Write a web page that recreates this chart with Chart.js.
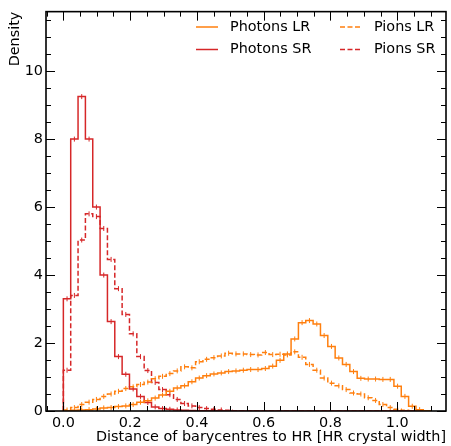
<!DOCTYPE html>
<html>
<head>
<meta charset="utf-8">
<script src="https://cdn.jsdelivr.net/npm/chart.js@4.4.0/dist/chart.umd.min.js"></script>
<style>
  html, body { margin: 0; padding: 0; background: #fff; }
  #wrap { width: 451px; height: 446px; }
</style>
</head>
<body>
<div id="wrap"><canvas id="chart" width="451" height="446"></canvas></div>
<script>
// Histogram binning: 50 bins of 0.022 from 0 to 1.1
const binStart = 0;
const binWidth = 0.022;

const photonsLR = [0.01, 0.02, 0.03, 0.04, 0.06, 0.09, 0.10, 0.13, 0.15, 0.19,
                   0.26, 0.30, 0.38, 0.47, 0.58, 0.68, 0.74, 0.86, 0.97, 1.04,
                   1.09, 1.12, 1.16, 1.18, 1.20, 1.22, 1.22, 1.25, 1.32, 1.49,
                   1.68, 2.12, 2.60, 2.66, 2.56, 2.22, 1.90, 1.56, 1.37, 1.16,
                   0.96, 0.94, 0.94, 0.93, 0.93, 0.73, 0.43, 0.14, 0.04, 0.01];
const photonsSR = [3.30, 8.00, 9.25, 8.00, 6.00, 4.00, 2.63, 1.60, 1.08, 0.65,
                   0.43, 0.25, 0.12, 0.07, 0.05, 0.03, 0.02, 0.015, 0.01, 0.01,
                   0.005, 0.005, 0, 0, 0, 0, 0, 0, 0, 0,
                   0, 0, 0, 0, 0, 0, 0, 0, 0, 0,
                   0, 0, 0, 0, 0, 0, 0, 0, 0, 0];
const pionsLR = [0.03, 0.10, 0.19, 0.26, 0.34, 0.43, 0.50, 0.58, 0.66, 0.71,
                 0.78, 0.85, 0.95, 1.02, 1.10, 1.18, 1.30, 1.27, 1.45, 1.52,
                 1.57, 1.62, 1.70, 1.68, 1.68, 1.66, 1.65, 1.72, 1.66, 1.67,
                 1.65, 1.74, 1.58, 1.37, 1.20, 0.97, 0.82, 0.74, 0.63, 0.53,
                 0.50, 0.39, 0.31, 0.19, 0.10, 0.05, 0.02, 0.01, 0, 0];
const pionsSR = [1.20, 3.40, 5.03, 5.80, 5.72, 5.37, 4.46, 3.60, 2.84, 2.27,
                 1.60, 1.19, 0.84, 0.63, 0.48, 0.34, 0.22, 0.15, 0.10, 0.07,
                 0.05, 0.03, 0.02, 0.01, 0.01, 0.005, 0, 0, 0, 0,
                 0, 0, 0, 0, 0, 0, 0, 0, 0, 0,
                 0, 0, 0, 0, 0, 0, 0, 0, 0, 0];

const xTicks = [0.0, 0.2, 0.4, 0.6, 0.8, 1.0];
const yTicks = [0, 2, 4, 6, 8, 10];
const xMinorStep = 0.05;
const yMinorStep = 0.5;

const ORANGE = '#ff7f0e';
const RED = '#d62728';
const FONT = 'DejaVu Sans';
const FSIZE = 14.4;

// step outline like matplotlib histtype='step'
function stepPoints(values) {
  const end = binStart + values.length * binWidth;
  const pts = [{ x: binStart, y: 0 }, { x: binStart, y: values[0] }];
  values.forEach((v, i) => pts.push({ x: binStart + (i + 1) * binWidth, y: v }));
  pts.push({ x: end, y: 0 });
  return pts;
}

// small vertical error ticks at bin centres
function centrePoints(values) {
  return values
    .map((v, i) => ({ x: binStart + (i + 0.5) * binWidth, y: v }))
    .filter(p => p.y > 0.02);
}

function histSet(label, values, color, dashed) {
  return {
    label, inLegend: true,
    data: stepPoints(values),
    borderColor: color, borderWidth: 1.5,
    borderDash: dashed ? [5, 2.5] : [],
    stepped: 'after', pointRadius: 0, fill: false
  };
}

function errSet(values, color) {
  return {
    label: '', inLegend: false,
    data: centrePoints(values),
    showLine: false,
    pointStyle: 'line', rotation: 90, pointRadius: 2.5,
    borderColor: color, borderWidth: 1, pointBorderWidth: 1
  };
}

const frameTicks = {
  id: 'frameTicks',
  afterDraw(chart) {
    const { ctx, chartArea: a, scales: { x, y } } = chart;
    const seg = (x1, y1, x2, y2) => { ctx.beginPath(); ctx.moveTo(x1, y1); ctx.lineTo(x2, y2); ctx.stroke(); };
    const isMajor = (v, list) => list.some(t => Math.abs(t - v) < 1e-6);
    ctx.save();
    ctx.strokeStyle = '#000';
    ctx.lineWidth = 1;
    for (let k = Math.ceil(x.min / xMinorStep); k * xMinorStep <= x.max; k++) {
      const v = k * xMinorStep;
      const len = isMajor(v, xTicks) ? 9 : 5;
      const px = Math.round(x.getPixelForValue(v)) + 0.5;
      seg(px, a.bottom, px, a.bottom - len);
      seg(px, a.top, px, a.top + len);
    }
    for (let k = Math.ceil(y.min / yMinorStep); k * yMinorStep <= y.max; k++) {
      const v = k * yMinorStep;
      const len = isMajor(v, yTicks) ? 9 : 5;
      const py = Math.round(y.getPixelForValue(v)) + 0.5;
      seg(a.left, py, a.left + len, py);
      seg(a.right, py, a.right - len, py);
    }
    ctx.lineWidth = 1.6;
    ctx.strokeRect(a.left, a.top, a.right - a.left, a.bottom - a.top);
    ctx.restore();
  }
};

// two-column legend, filled column first
const histLegend = {
  id: 'histLegend',
  afterDraw(chart) {
    const ctx = chart.ctx;
    const items = chart.data.datasets.filter(d => d.inLegend);
    const colX = [196, 340];
    const rowY = [27, 49.5];
    ctx.save();
    ctx.font = FSIZE + 'px "' + FONT + '"';
    ctx.textBaseline = 'middle';
    ctx.textAlign = 'left';
    items.forEach((d, i) => {
      const cx = colX[Math.floor(i / 2)];
      const cy = rowY[i % 2];
      ctx.strokeStyle = d.borderColor;
      ctx.lineWidth = 1.5;
      ctx.setLineDash(d.borderDash);
      ctx.beginPath();
      ctx.moveTo(cx, cy);
      ctx.lineTo(cx + 22, cy);
      ctx.stroke();
      ctx.setLineDash([]);
      ctx.fillStyle = '#000';
      ctx.fillText(d.label, cx + 34, cy);
    });
    ctx.restore();
  }
};

new Chart(document.getElementById('chart'), {
  type: 'line',
  data: {
    datasets: [
      histSet('Photons LR', photonsLR, ORANGE, false),
      histSet('Photons SR', photonsSR, RED, false),
      histSet('Pions LR', pionsLR, ORANGE, true),
      histSet('Pions SR', pionsSR, RED, true),
      errSet(photonsLR, ORANGE),
      errSet(photonsSR, RED),
      errSet(pionsLR, ORANGE),
      errSet(pionsSR, RED)
    ]
  },
  options: {
    responsive: false,
    animation: false,
    layout: { padding: { top: 7, right: 3, left: 0, bottom: 0 } },
    plugins: { legend: { display: false }, tooltip: { enabled: false } },
    scales: {
      x: {
        type: 'linear', min: -0.052, max: 1.146,
        grid: { display: false, drawTicks: false },
        border: { display: false },
        afterBuildTicks: axis => { axis.ticks = xTicks.map(v => ({ value: v })); },
        afterFit: axis => { axis.height = 35; },
        ticks: {
          padding: 4, color: '#000', font: { family: FONT, size: FSIZE },
          maxRotation: 0, callback: v => v.toFixed(1)
        },
        title: {
          display: true, text: 'Distance of barycentres to HR [HR crystal width]',
          align: 'end', color: '#000', font: { family: FONT, size: FSIZE },
          padding: { top: 0, bottom: 0 }
        }
      },
      y: {
        type: 'linear', min: 0, max: 11.75,
        grid: { display: false, drawTicks: false },
        border: { display: false },
        afterBuildTicks: axis => { axis.ticks = yTicks.map(v => ({ value: v })); },
        afterFit: axis => { axis.width = 46; },
        ticks: {
          padding: 3, color: '#000', font: { family: FONT, size: FSIZE },
          callback: v => String(v)
        },
        title: {
          display: true, text: 'Density', align: 'end',
          color: '#000', font: { family: FONT, size: FSIZE },
          padding: { top: 7, bottom: 0 }
        }
      }
    }
  },
  plugins: [frameTicks, histLegend]
});
</script>
</body>
</html>
